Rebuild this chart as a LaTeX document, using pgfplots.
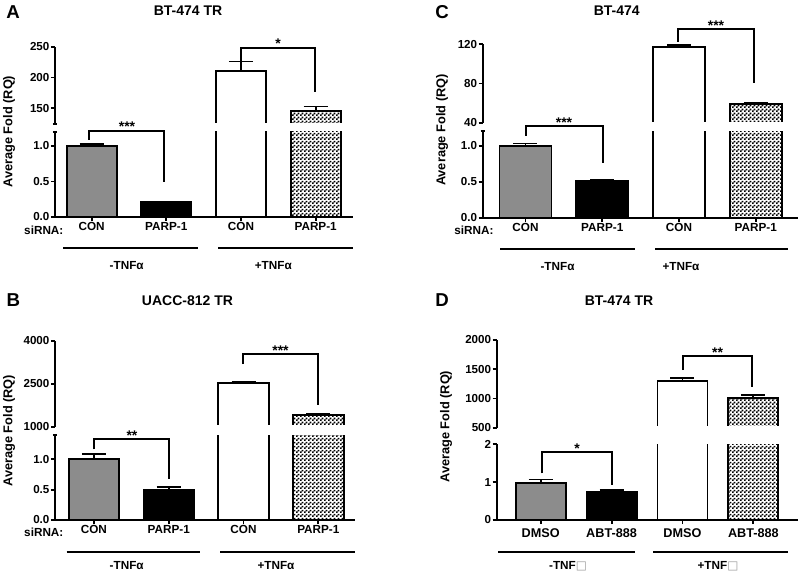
\documentclass[border=0pt]{standalone}
\usepackage{pgfplots}
\pgfplotsset{compat=1.18}
\usepackage{pgfplotstable}
\usepackage{fontspec}
\setmainfont{Liberation Sans}
\newfontfamily\dejavu{DejaVu Sans}
\usetikzlibrary{patterns}

\pgfdeclarepatternformonly{coarsecheck}{\pgfpointorigin}{\pgfpoint{3pt}{3pt}}{\pgfpoint{3pt}{3pt}}{%
  \pgfpathrectangle{\pgfpointorigin}{\pgfpoint{1.5pt}{1.5pt}}%
  \pgfpathrectangle{\pgfpoint{1.5pt}{1.5pt}}{\pgfpoint{1.5pt}{1.5pt}}%
  \pgfusepath{fill}}

\pgfplotstableread{
x y e
0 1.00 0.025
1 0.21 0.006
2 211 15
3 146 7
}\dataA
\pgfplotstableread{
x y e
0 1.00 0.09
1 0.49 0.06
2 2530 30
3 1420 40
}\dataB
\pgfplotstableread{
x y e
0 1.00 0.03
1 0.51 0.01
2 117.5 1.5
3 58.8 1.2
}\dataC
\pgfplotstableread{
x y e
0 0.98 0.09
1 0.73 0.06
2 1305 40
3 1015 45
}\dataD

\newcommand\fLetter{\bfseries\fontsize{14}{16}\selectfont}
\newcommand\fTitle{\bfseries\fontsize{10.5}{12}\selectfont}
\newcommand\fLab{\bfseries\fontsize{9.6}{11}\selectfont}
\newcommand\fCat{\bfseries\fontsize{8.8}{10}\selectfont}
\newcommand\fTick{\bfseries\fontsize{8.7}{10}\selectfont}

\pgfplotsset{
  brk/.style={
    scale only axis, anchor=south west, clip=true,
    axis y line*=left,
    tick align=outside,
    major tick length=3pt,
    every tick/.style={black, line width=1.4pt},
    axis line style={line width=1.4pt},
    scaled y ticks=false,
    yticklabel style={font=\fTick, inner sep=1pt},
    xticklabel style={font=\fCat, inner sep=1pt},
    /pgf/number format/assume math mode=true,
    extra y tick style={tick align=center},
    extra y tick labels={},
  },
  low/.style={brk, axis x line*=bottom, xtick={0,1,2,3}},
  up/.style={brk, axis x line=none},
  barbase/.style={ybar, bar shift=0pt, draw=black, line width=1.4pt,
    error bars/.cd, y dir=plus, y explicit,
    error bar style={line width=1.4pt, black},
    error mark options={rotate=90, line width=1.4pt, black, mark size=9pt}},
  b1/.style={fill=black!45, barbase},
  b2/.style={fill=black, barbase},
  b3/.style={fill=white, barbase},
  b4/.style={pattern=coarsecheck, pattern color=black, barbase},
}
% lower axes: values far above the axis are held at 10 (they are clipped anyway)
\pgfkeys{/pgfplots/table/lowtab/.style={x=x, y expr={min(\thisrow{y},10)},
    y error expr={(\thisrow{y}>10) ? 0 : \thisrow{e}}},
  /pgfplots/table/uptab/.style={x=x, y=y, y error=e}}

\newcommand\fourbars[2]{%
  \addplot[b1] table[#2,restrict x to domain=-0.1:0.1]{#1};
  \addplot[b2] table[#2,restrict x to domain=0.9:1.1]{#1};
  \addplot[b3] table[#2,restrict x to domain=1.9:2.1]{#1};
  \addplot[b4] table[#2,restrict x to domain=2.9:3.1]{#1};
}
% upper segment of a broken axis: hide the bar bases that sit on the break
\newcommand\breakmask{\fill[white] (rel axis cs:0.03,-0.01) rectangle (rel axis cs:1,0.014);}

\begin{document}
\begin{tikzpicture}
\path[use as bounding box] (0pt,0pt) rectangle (600pt,429pt);

% ---------------- Panel A ----------------
\begin{axis}[low, at={(41.25pt,266.25pt)}, width=223.5pt, height=63.9pt,
  xmin=-0.49, xmax=3.5, ymin=0, ymax=1.2, bar width=0.67,
  ytick={0,0.5,1}, yticklabels={0.0,0.5,1.0}, extra y ticks={1.2},
  xticklabels={CON,PARP-1,CON,PARP-1}]
\fourbars{\dataA}{lowtab}
\end{axis}
\begin{axis}[up, at={(41.25pt,336.225pt)}, width=223.5pt, height=57.75pt,
  xmin=-0.49, xmax=3.5, ymin=125, ymax=250, bar width=0.67,
  ytick={150,200,250}, yticklabels={150,200,250}, extra y ticks={125}]
\fourbars{\dataA}{uptab}
\breakmask
\end{axis}

% ---------------- Panel B ----------------
\begin{axis}[low, at={(41.25pt,39pt)}, width=225pt, height=63.75pt,
  xmin=-0.52, xmax=3.49, ymin=0, ymax=1.4, bar width=0.675,
  ytick={0,0.5,1}, yticklabels={0.0,0.5,1.0}, extra y ticks={1.4},
  xticklabels={CON,PARP-1,CON,PARP-1}]
\fourbars{\dataB}{lowtab}
\end{axis}
\begin{axis}[up, at={(41.25pt,108.975pt)}, width=225pt, height=64.5pt,
  xmin=-0.52, xmax=3.49, ymin=1000, ymax=4000, bar width=0.675,
  ytick={1000,2500,4000}, yticklabels={1000,2500,4000}]
\fourbars{\dataB}{uptab}
\breakmask
\end{axis}

% ---------------- Panel C ----------------
\begin{axis}[low, at={(362.025pt,265.725pt)}, width=236.5pt, height=64.8pt,
  xmin=-0.557, xmax=3.55, ymin=0, ymax=1.2, bar width=0.677,
  ytick={0,0.5,1}, yticklabels={0.0,0.5,1.0}, extra y ticks={1.2},
  xticklabels={CON,PARP-1,CON,PARP-1}]
\fourbars{\dataC}{lowtab}
\end{axis}
\begin{axis}[up, at={(362.025pt,336.975pt)}, width=236.5pt, height=58.8pt,
  xmin=-0.557, xmax=3.55, ymin=40, ymax=120, bar width=0.677,
  ytick={40,80,120}, yticklabels={40,80,120}]
\fourbars{\dataC}{uptab}
\breakmask
\end{axis}

% ---------------- Panel D ----------------
\begin{axis}[low, at={(372.525pt,39pt)}, width=226pt, height=56.8pt,
  xmin=-0.62, xmax=3.63, ymin=0, ymax=2, bar width=0.706,
  ytick={0,1,2}, yticklabels={0,1,2},
  xticklabel style={font=\bfseries\fontsize{9.5}{10}\selectfont, yshift=-2pt},
  xticklabels={DMSO,ABT-888,DMSO,ABT-888}]
\fourbars{\dataD}{lowtab}
\end{axis}
\begin{axis}[up, at={(372.525pt,108.225pt)}, width=226pt, height=65.8pt,
  xmin=-0.62, xmax=3.63, ymin=500, ymax=2000, bar width=0.706,
  ytick={500,1000,1500,2000}, yticklabels={500,1000,1500,2000}]
\fourbars{\dataD}{uptab}
\breakmask
\end{axis}

% ---------------- annotations (pixel coordinates, y downwards) ----------------
\begin{scope}[x=0.75pt, y=-0.75pt, shift={(0pt,429pt)}]
% A
\node[font=\fLetter] at (13,12) {A};
\node[font=\fTitle] at (188,11) {BT-474 TR};
\node[font=\fLab, rotate=90] at (9,131.7) {Average Fold (RQ)};
\node[font=\fCat, inner sep=0pt] at (43.8,230) {siRNA:};
\draw[line width=1.4pt] (89,140)--(89,130.7)--(164,130.7)--(164,181.7);
\node[font=\fTitle, anchor=base] at (127,132) {***};
\draw[line width=1.4pt] (240.7,61.7)--(240.7,47.7)--(315,47.7)--(315,91.7);
\node[font=\fTitle, anchor=base] at (278,49) {*};
\draw[line width=1.4pt] (63,248.3)--(198,248.3);
\draw[line width=1.4pt] (218,248.3)--(353,248.3);
\node[font=\fCat] at (126.7,265.5) {-TNFα};
\node[font=\fCat] at (273.3,266) {+TNFα};
% B
\node[font=\fLetter] at (13.3,300) {B};
\node[font=\fTitle] at (187.5,301) {UACC-812 TR};
\node[font=\fLab, rotate=90] at (9,430.8) {Average Fold (RQ)};
\node[font=\fCat, inner sep=0pt] at (43.8,532.5) {siRNA:};
\draw[line width=1.4pt] (94.3,449.3)--(94.3,439.3)--(169.3,439.3)--(169.3,479.3);
\node[font=\fTitle, anchor=base] at (132,440.5) {**};
\draw[line width=1.4pt] (243.3,364)--(243.3,354)--(317.7,354)--(317.7,405);
\node[font=\fTitle, anchor=base] at (280.5,355.3) {***};
\draw[line width=1.4pt] (66.7,551.7)--(200,551.7);
\draw[line width=1.4pt] (220,551.7)--(355,551.7);
\node[font=\fCat, inner sep=0pt] at (126.7,566) {-TNFα};
\node[font=\fCat, inner sep=0pt] at (276,566) {+TNFα};
% C
\node[font=\fLetter] at (442,12) {C};
\node[font=\fTitle] at (616.7,11) {BT-474};
\node[font=\fLab, rotate=90] at (442,130) {Average Fold (RQ)};
\node[font=\fCat, inner sep=0pt] at (474,230) {siRNA:};
\draw[line width=1.4pt] (526,136)--(526,126)--(602.7,126)--(602.7,163.3);
\node[font=\fTitle, anchor=base] at (564,127.3) {***};
\draw[line width=1.4pt] (678,41.7)--(678,29.3)--(754,29.3)--(754,83.3);
\node[font=\fTitle, anchor=base] at (716,30.6) {***};
\draw[line width=1.4pt] (500,249.3)--(635,249.3);
\draw[line width=1.4pt] (655,249.3)--(788,249.3);
\node[font=\fCat] at (557.5,266.7) {-TNFα};
\node[font=\fCat] at (681,266.7) {+TNFα};
% D
\node[font=\fLetter] at (442,300) {D};
\node[font=\fTitle] at (619,301) {BT-474 TR};
\node[font=\fLab, rotate=90] at (446,426.7) {Average Fold (RQ)};
\draw[line width=1.4pt] (541.7,473.3)--(541.7,451.7)--(611.7,451.7)--(611.7,485);
\node[font=\fTitle, anchor=base] at (577,453) {*};
\draw[line width=1.4pt] (682.7,370)--(682.7,356)--(752.3,356)--(752.3,386.7);
\node[font=\fTitle, anchor=base] at (717.5,357.3) {**};
\draw[line width=1.4pt] (498.3,551.7)--(635,551.7);
\draw[line width=1.4pt] (653.3,551.7)--(788.3,551.7);
\node[font=\fCat, inner sep=0pt] at (568,566) {-TNF{\dejavu\color{black!40}□}};
\node[font=\fCat, inner sep=0pt] at (718,566) {+TNF{\dejavu\color{black!40}□}};
\end{scope}
\end{tikzpicture}
\end{document}
